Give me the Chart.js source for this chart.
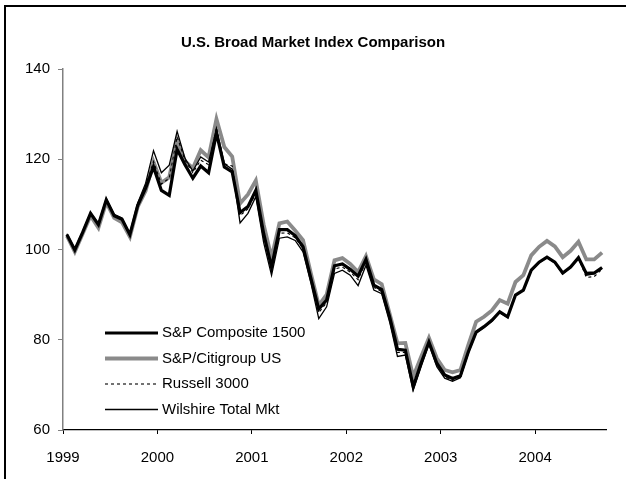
<!DOCTYPE html>
<html>
<head>
<meta charset="utf-8">
<script src="https://cdn.jsdelivr.net/npm/chart.js@4"></script>
<style>
    body { margin: 0; background: #fff; }
    #wrap { position: relative; width: 626px; height: 479px; }
</style>
</head>
<body>
<div id="wrap"><canvas id="grafico"></canvas></div>
<script>
const fonte = "'Liberation Sans Narrow', 'Arial Narrow', 'Liberation Sans', Arial, sans-serif";

const anos = ['1999', '2000', '2001', '2002', '2003', '2004'];
// meses de jan/1999 a set/2004
const meses = [];
for (let a = 1999; a <= 2004; a++) {
    for (let m = 1; m <= 12; m++) {
        if (a === 2004 && m > 9) break;
        meses.push(`${a}-${String(m).padStart(2, '0')}`);
    }
}

const nomes = ['S&P Composite 1500', 'S&P/Citigroup US', 'Russell 3000', 'Wilshire Total Mkt'];

const sp1500 = [103.3, 99.9, 103.8, 108.0, 105.5, 111.0, 107.5, 106.7, 103.3, 109.8, 113.6, 118.3,
    113.1, 112.0, 122.2, 118.8, 115.8, 118.5, 117.0, 125.8, 118.3, 117.2, 108.2, 109.5,
    113.1, 103.5, 96.1, 104.4, 104.4, 103.1, 100.6, 93.6, 86.8, 88.8, 96.4, 96.8,
    95.6, 94.1, 97.8, 92.1, 91.1, 85.1, 77.9, 77.7, 69.6, 74.8, 79.5, 74.8,
    72.2, 71.4, 72.0, 77.3, 81.7, 82.9, 84.3, 86.2, 85.1, 89.9, 91.0, 95.4,
    97.2, 98.3, 97.2, 94.8, 96.1, 98.2, 94.7, 94.8, 96.0];

const citigroup = [103.0, 99.5, 103.5, 107.5, 104.8, 110.5, 107.0, 106.0, 102.8, 109.5, 113.0, 119.4,
    114.8, 116.0, 124.3, 119.6, 118.0, 122.0, 120.4, 128.9, 122.7, 120.6, 110.2, 112.2,
    115.3, 105.5, 98.2, 105.8, 106.2, 104.2, 102.1, 94.7, 87.6, 90.0, 97.6, 98.1,
    96.8, 95.0, 98.5, 93.4, 92.3, 85.8, 79.2, 79.3, 71.8, 76.2, 80.4, 75.9,
    73.3, 72.8, 73.3, 78.8, 84.0, 85.1, 86.5, 88.8, 88.0, 92.8, 94.3, 98.7,
    100.6, 101.9, 100.7, 98.3, 99.7, 101.7, 97.8, 97.8, 99.3];

const russell = [103.3, 99.8, 103.8, 108.0, 105.6, 111.0, 107.6, 106.8, 103.3, 110.0, 114.0, 119.5,
    114.5, 115.8, 125.0, 119.8, 117.0, 119.8, 118.8, 127.0, 119.0, 118.5, 107.5, 109.0,
    112.5, 102.8, 95.5, 103.6, 103.7, 102.6, 100.2, 93.2, 86.0, 88.2, 95.7, 96.1,
    95.0, 93.3, 97.3, 91.6, 90.7, 84.6, 77.2, 77.2, 69.2, 74.4, 79.2, 74.4,
    71.8, 71.0, 71.8, 77.1, 81.6, 82.8, 84.2, 86.1, 85.0, 89.8, 90.9, 95.3,
    97.1, 98.2, 97.1, 94.6, 96.0, 98.1, 93.8, 94.0, 95.6];

const wilshire = [103.5, 100.0, 104.0, 108.2, 105.8, 111.2, 107.8, 107.0, 103.5, 110.3, 114.7, 121.9,
    117.0, 118.7, 126.2, 120.2, 117.4, 120.5, 119.4, 126.7, 119.0, 117.8, 105.9, 108.0,
    111.7, 101.5, 94.3, 102.5, 102.8, 102.0, 99.5, 92.6, 84.7, 87.3, 94.7, 95.4,
    94.3, 92.0, 96.5, 91.0, 90.2, 84.0, 76.3, 76.6, 68.8, 74.0, 79.0, 74.0,
    71.5, 70.8, 71.6, 77.0, 81.5, 82.7, 84.1, 86.0, 84.9, 89.8, 90.9, 95.3,
    97.1, 98.2, 97.0, 94.6, 96.0, 98.0, 94.3, 94.6, 95.8];

// cada mes fica no centro da sua categoria
function pontos(valores) {
    return valores.map((v, i) => ({ x: i + 0.5, y: v }));
}

const moldura = {
    id: 'moldura',
    beforeDraw(chart) {
        const ctx = chart.ctx;
        ctx.save();
        ctx.strokeStyle = '#000';
        ctx.lineWidth = 2;
        ctx.beginPath();
        ctx.moveTo(5, 479);
        ctx.lineTo(5, 6);
        ctx.lineTo(626, 6);
        ctx.stroke();
        ctx.restore();
    }
};

const legendaDentro = {
    id: 'legendaDentro',
    afterDraw(chart) {
        const ctx = chart.ctx;
        const linhas = [333, 358.5, 384, 409.5];
        ctx.save();
        chart.data.datasets.forEach((ds, i) => {
            const y = linhas[i];
            ctx.strokeStyle = ds.borderColor;
            ctx.lineWidth = ds.borderWidth;
            ctx.setLineDash(ds.borderDash || []);
            ctx.beginPath();
            ctx.moveTo(105, y);
            ctx.lineTo(158, y);
            ctx.stroke();
            ctx.setLineDash([]);
            ctx.fillStyle = '#000';
            ctx.font = `15px ${fonte}`;
            ctx.textBaseline = 'middle';
            ctx.textAlign = 'left';
            ctx.fillText(ds.label, 162, y);
        });
        ctx.restore();
    }
};

function criarGrafico() {
    const ctx = document.getElementById('grafico').getContext('2d');
    new Chart(ctx, {
        type: 'line',
        data: {
            datasets: [
                { label: nomes[0], data: pontos(sp1500), borderColor: '#000', borderWidth: 3.2, order: 3 },
                { label: nomes[1], data: pontos(citigroup), borderColor: '#8a8a8a', borderWidth: 3.8, order: 4 },
                { label: nomes[2], data: pontos(russell), borderColor: '#000', borderWidth: 1.1, borderDash: [3, 3], order: 2 },
                { label: nomes[3], data: pontos(wilshire), borderColor: '#000', borderWidth: 1.3, order: 1 }
            ]
        },
        options: {
            responsive: false,
            animation: false,
            devicePixelRatio: 1,
            layout: { padding: { left: 20, right: 20, top: 0, bottom: 0 } },
            elements: {
                point: { radius: 0 },
                line: { tension: 0, borderJoinStyle: 'miter' }
            },
            plugins: {
                legend: { display: false },
                tooltip: { enabled: false },
                title: {
                    display: true,
                    text: 'U.S. Broad Market Index Comparison',
                    color: '#000',
                    font: { family: fonte, size: 15, weight: 'bold' },
                    padding: { top: 34, bottom: 17 }
                }
            },
            scales: {
                x: {
                    type: 'linear',
                    min: 0,
                    max: meses.length,
                    afterBuildTicks: (s) => { s.ticks = anos.map((a, i) => ({ value: i * 12 })); },
                    afterFit: (s) => { s.height = 49; },
                    border: { color: '#000', width: 1.2 },
                    grid: { drawOnChartArea: false, color: '#000', tickLength: 4 },
                    ticks: {
                        color: '#000',
                        padding: 15,
                        maxRotation: 0,
                        autoSkip: false,
                        font: { family: fonte, size: 15 },
                        callback: (v) => anos[v / 12]
                    }
                },
                y: {
                    min: 60,
                    max: 140,
                    afterFit: (s) => { s.width = 43; },
                    border: { color: '#808080', width: 1.5 },
                    grid: { drawOnChartArea: false, color: '#808080', tickLength: 5 },
                    ticks: {
                        stepSize: 20,
                        color: '#000',
                        padding: 8,
                        font: { family: fonte, size: 15 }
                    }
                }
            }
        },
        plugins: [moldura, legendaDentro]
    });
}

document.getElementById('grafico').width = 626;
document.getElementById('grafico').height = 479;
criarGrafico();
</script>
</body>
</html>
